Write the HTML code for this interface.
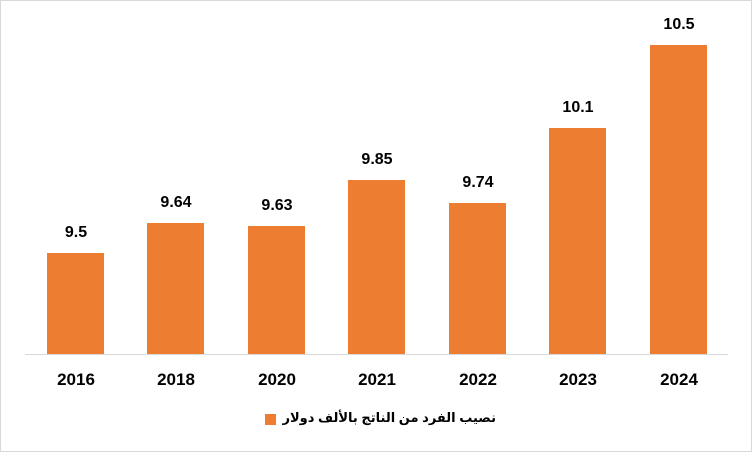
<!DOCTYPE html>
<html><head><meta charset="utf-8"><style>
body{margin:0;background:#fff}
.c{position:relative;width:750px;height:450px;border:1px solid #d9d9d9;font-family:"Liberation Sans",Arial,sans-serif;font-weight:bold;color:#000;overflow:hidden}
.b{position:absolute;background:#ed7d31;width:57px;bottom:97px}
.v{position:absolute;width:80px;text-align:center;font-size:16px}
.x{position:absolute;width:80px;text-align:center;font-size:17px;top:369px}
.ax{position:absolute;left:24px;width:703px;top:353px;height:1px;background:#d9d9d9}
</style></head><body><div class="c">
<div class="ax"></div>
<div class="b" style="left:46px;height:101px"></div><div class="v" style="left:35px;top:223px">9.5</div><div class="x" style="left:35px">2016</div>
<div class="b" style="left:146px;height:131px"></div><div class="v" style="left:135px;top:193px">9.64</div><div class="x" style="left:135px">2018</div>
<div class="b" style="left:247px;height:128px"></div><div class="v" style="left:236px;top:196px">9.63</div><div class="x" style="left:236px">2020</div>
<div class="b" style="left:347px;height:174px"></div><div class="v" style="left:336px;top:150px">9.85</div><div class="x" style="left:336px">2021</div>
<div class="b" style="left:448px;height:151px"></div><div class="v" style="left:437px;top:173px">9.74</div><div class="x" style="left:437px">2022</div>
<div class="b" style="left:548px;height:226px"></div><div class="v" style="left:537px;top:98px">10.1</div><div class="x" style="left:537px">2023</div>
<div class="b" style="left:649px;height:309px"></div><div class="v" style="left:638px;top:15px">10.5</div><div class="x" style="left:638px">2024</div>
<div style="position:absolute;left:264px;top:413px;width:11px;height:11px;background:#ed7d31"></div>
<div style="position:absolute;right:255px;top:409px;font-size:13px;direction:rtl;font-family:'Liberation Sans','DejaVu Sans',sans-serif;white-space:nowrap">نصيب الفرد من الناتج بالألف دولار</div>
</div></body></html>
